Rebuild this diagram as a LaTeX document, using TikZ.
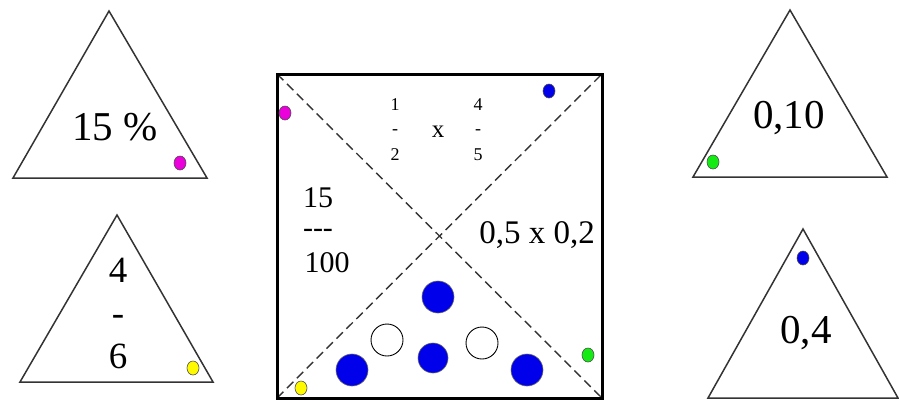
\documentclass[tikz,border=0pt]{standalone}
\usepackage{fontspec}
\setmainfont{Liberation Serif}
\definecolor{dotBlue}{RGB}{0, 0, 235}
\definecolor{dotPink}{RGB}{235, 0, 220}
\definecolor{dotGreen}{RGB}{20, 235, 20}
\definecolor{dotYellow}{RGB}{255, 250, 0}

\newcommand{\bigtxt}{\fontsize{41}{41}\selectfont}
\newcommand{\midtxt}{\fontsize{37}{37}\selectfont}
\newcommand{\sqtxt}{\fontsize{30}{30}\selectfont}
\newcommand{\smalltxt}{\fontsize{18}{18}\selectfont}

\begin{document}
\begin{tikzpicture}[x=1pt, y=-1pt,
    tri/.style={draw=black!80, line width=1.5pt, line join=miter},
    lbl/.style={anchor=base, inner sep=0pt},
    diag/.style={dash pattern=on 9pt off 5pt, line width=1.4pt, black!80},
    marker/.style={draw=black!70, line width=0.6pt},
    ball/.style={draw=black!60, line width=0.6pt, fill=dotBlue},
    hole/.style={draw=black, line width=0.9pt, fill=white}]
  \useasboundingbox (0,0) rectangle (899,400);

  % triangles on the left
  \draw[tri] (13,178) -- (109,11) -- (207,178) -- cycle;
  \node[lbl] (pct) at (115,140) {\bigtxt 15 \%};
  \draw[marker, fill=dotPink] (180,163) ellipse (6pt and 7pt);

  \draw[tri] (20,382) -- (117,215) -- (213,382) -- cycle;
  \node[lbl] (fnum) at (118,282) {\midtxt 4};
  \node[lbl] (fbar) at (118,325) {\midtxt -};
  \node[lbl] (fden) at (118,368) {\midtxt 6};
  \draw[marker, fill=dotYellow] (193,368) ellipse (6pt and 7pt);

  % the square
  \coordinate (nw) at (277,74);
  \coordinate (ne) at (602,74);
  \coordinate (sw) at (277,398);
  \coordinate (se) at (602,398);
  \draw[diag] (nw) -- (se);
  \draw[diag] (sw) -- (ne);
  \draw[line width=3pt] (nw) rectangle (se);

  \node[lbl] (aone) at (395,110) {\smalltxt 1};
  \node[lbl] (abar) at (395,134) {\smalltxt -};
  \node[lbl] (atwo) at (395,160) {\smalltxt 2};
  \node[lbl] (times) at (438,137) {\fontsize{25}{25}\selectfont x};
  \node[lbl] (bfour) at (478,110) {\smalltxt 4};
  \node[lbl] (bbar) at (478,134) {\smalltxt -};
  \node[lbl] (bfive) at (478,160) {\smalltxt 5};

  \node[lbl] (num) at (318,207) {\sqtxt 15};
  \node[lbl] (dashes) at (318,237) {\sqtxt -{}-{}-};
  \node[lbl] (den) at (327,272) {\sqtxt 100};

  \node[lbl] (prod) at (537,243) {\fontsize{33}{33}\selectfont 0,5 x 0,2};

  \draw[ball] (438,297) circle (16pt);
  \draw[ball] (433,358) circle (15pt);
  \draw[ball] (352,370) circle (16pt);
  \draw[ball] (527,370) circle (16pt);
  \draw[hole] (387,340) circle (16pt);
  \draw[hole] (482,343) circle (16pt);

  \draw[marker, fill=dotBlue] (549,91) ellipse (6pt and 7pt);
  \draw[marker, fill=dotPink] (285,113) ellipse (6pt and 7pt);
  \draw[marker, fill=dotGreen] (588,355) ellipse (6pt and 7pt);
  \draw[marker, fill=dotYellow] (301,388) ellipse (6pt and 7pt);

  % triangles on the right
  \draw[tri] (693,177) -- (790,10) -- (887,177) -- cycle;
  \node[lbl] (tenth) at (789,128) {\bigtxt 0,10};
  \draw[marker, fill=dotGreen] (713,162) ellipse (6pt and 7pt);

  \draw[tri] (708,398) -- (803,229) -- (898,398) -- cycle;
  \node[lbl] (fourth) at (806,343) {\bigtxt 0,4};
  \draw[marker, fill=dotBlue] (803,258) ellipse (6pt and 7pt);
\end{tikzpicture}
\end{document}
